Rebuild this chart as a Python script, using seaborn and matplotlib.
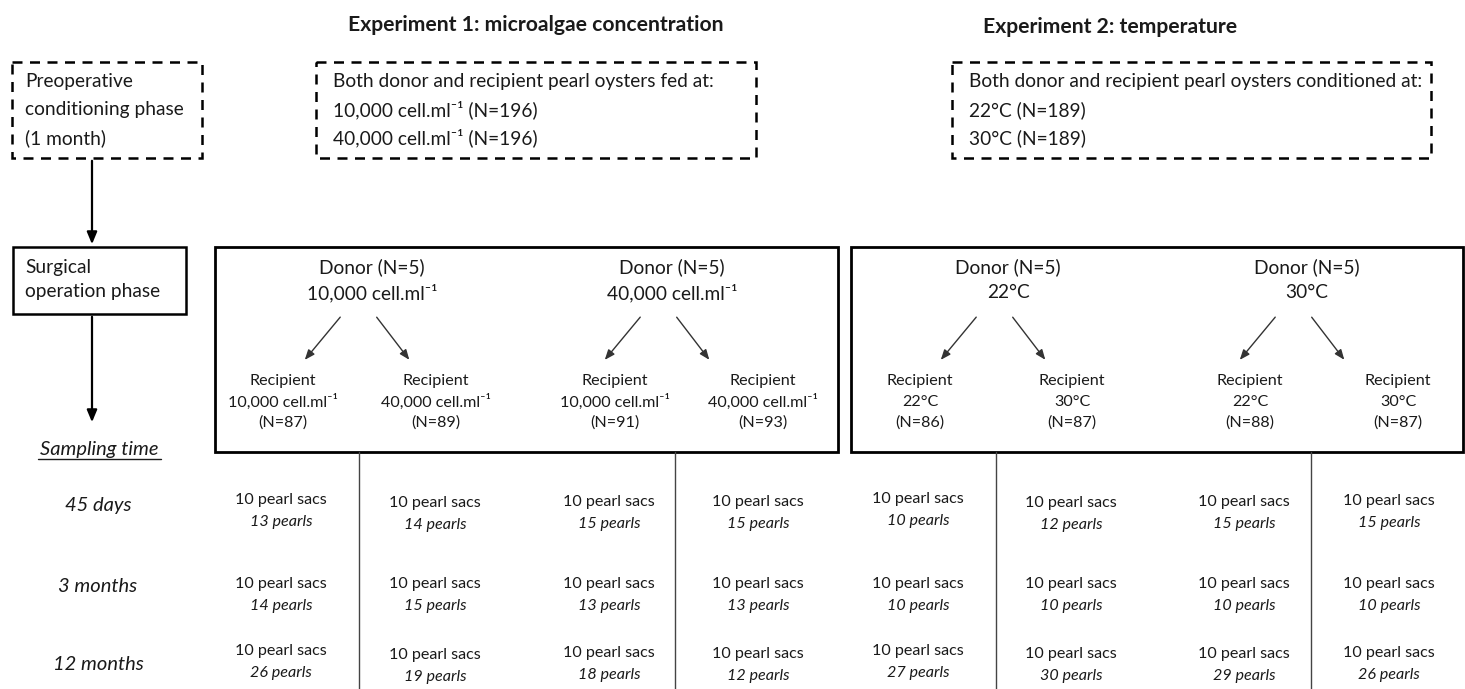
import matplotlib
matplotlib.use('Agg')
import matplotlib.pyplot as plt
import matplotlib.patches as mpatches
import seaborn as sns

# ---- data ----
exp_titles = ['Experiment 1: microalgae concentration', 'Experiment 2: temperature']
donor_conditions = ['10,000 cell.ml⁻¹', '40,000 cell.ml⁻¹', '22°C', '30°C']
recipient_conditions = ['10,000 cell.ml⁻¹', '40,000 cell.ml⁻¹',
                        '10,000 cell.ml⁻¹', '40,000 cell.ml⁻¹',
                        '22°C', '30°C', '22°C', '30°C']
recipient_n = [87, 89, 91, 93, 86, 87, 88, 87]
sampling_times = ['45 days', '3 months', '12 months']
pearl_sacs = [
    [10, 10, 10, 10, 10, 10, 10, 10],
    [10, 10, 10, 10, 10, 10, 10, 10],
    [10, 10, 10, 10, 10, 10, 10, 10],
]
pearls = [
    [13, 14, 15, 15, 10, 12, 15, 15],
    [14, 15, 13, 13, 10, 10, 10, 10],
    [26, 19, 18, 12, 27, 30, 29, 26],
]
exp1_conditioning = ['Both donor and recipient pearl oysters fed at:',
                     '10,000 cell.ml⁻¹ (N=196)',
                     '40,000 cell.ml⁻¹ (N=196)']
exp2_conditioning = ['Both donor and recipient pearl oysters conditioned at:',
                     '22°C (N=189)',
                     '30°C (N=189)']

sns.set_theme(style='white')
plt.rcParams['font.family'] = ['Lato', 'DejaVu Sans']

fig = plt.figure(figsize=(14.65, 6.89), dpi=100)
ax = fig.add_axes([0, 0, 1, 1])
ax.set_xlim(0, 1465)
ax.set_ylim(689, 0)
ax.axis('off')

TXT = '#1a1a1a'
MAIN = 13.8

# ---- titles ----
ax.text(536, 25, exp_titles[0], ha='center', va='center', fontsize=15.2, fontweight='bold', color=TXT)
ax.text(1110, 27, exp_titles[1], ha='center', va='center', fontsize=15.2, fontweight='bold', color=TXT)

# ---- dashed conditioning boxes ----
def dashed_box(x0, y0, x1, y1):
    r = mpatches.Rectangle((x0, y0), x1 - x0, y1 - y0, fill=False, ec='black',
                           lw=1.8, ls=(0, (4, 3)))
    ax.add_patch(r)

dashed_box(12, 62, 202, 158)
dashed_box(316, 62, 756, 158)
dashed_box(952, 62, 1431, 158)

for i, s in enumerate(['Preoperative', 'conditioning phase', '(1 month)']):
    ax.text(25, 82 + 28 * i, s, ha='left', va='center', fontsize=MAIN, color=TXT)
for i, s in enumerate(exp1_conditioning):
    ax.text(333, 82 + 28 * i, s, ha='left', va='center', fontsize=MAIN, color=TXT)
for i, s in enumerate(exp2_conditioning):
    ax.text(969, 82 + 28 * i, s, ha='left', va='center', fontsize=MAIN, color=TXT)

# ---- left flow ----
arrow_kw = dict(arrowstyle='-|>,head_length=0.6,head_width=0.25', color='black', lw=1.6)
ax.annotate('', xy=(92, 247), xytext=(92, 158), arrowprops=arrow_kw)
ax.add_patch(mpatches.Rectangle((13, 247), 173, 67, fill=False, ec='black', lw=1.8))
ax.text(25, 268, 'Surgical', ha='left', va='center', fontsize=MAIN, color=TXT)
ax.text(25, 292, 'operation phase', ha='left', va='center', fontsize=MAIN, color=TXT)
ax.annotate('', xy=(92, 425), xytext=(92, 314), arrowprops=arrow_kw)
ax.text(99, 450, 'Sampling time', ha='center', va='center', fontsize=14.5, style='italic', color=TXT)
ax.plot([38, 161], [459, 459], color=TXT, lw=1)

# ---- experiment boxes ----
ax.add_patch(mpatches.Rectangle((215, 247), 623, 205, fill=False, ec='black', lw=2))
ax.add_patch(mpatches.Rectangle((851, 247), 612, 205, fill=False, ec='black', lw=2))

donor_x = [372, 672, 1008, 1307]
rec_x = [283, 436, 615, 763, 920, 1072, 1250, 1398]
diag_kw = dict(arrowstyle='-|>,head_length=0.5,head_width=0.2', color='#333333', lw=1)
for d, (dx, cond) in enumerate(zip(donor_x, donor_conditions)):
    ax.text(dx, 267, 'Donor (N=5)', ha='center', va='center', fontsize=MAIN, color=TXT)
    ax.text(dx, 293, cond, ha='center', va='center', fontsize=MAIN, color=TXT)
    ax.annotate('', xy=(dx - 69, 362), xytext=(dx - 30, 315), arrowprops=diag_kw)
    ax.annotate('', xy=(dx + 39, 362), xytext=(dx + 3, 315), arrowprops=diag_kw)

for rx, cond, n in zip(rec_x, recipient_conditions, recipient_n):
    ax.text(rx, 381, 'Recipient', ha='center', va='center', fontsize=11.6, color=TXT)
    ax.text(rx, 402, cond, ha='center', va='center', fontsize=11.6, color=TXT)
    ax.text(rx, 423, f'(N={n})', ha='center', va='center', fontsize=11.6, color=TXT)

# ---- divider lines ----
for x in [359, 675, 996, 1311]:
    ax.plot([x, x], [452, 689], color='#444444', lw=1)

# ---- sampling table ----
cell_x = [281, 435, 609, 758, 918, 1071, 1244, 1389]
row_y = [
    [500, 503, 502, 502, 499, 503, 502, 501],
    [584, 584, 584, 584, 584, 584, 584, 584],
    [651, 655, 653, 654, 651, 654, 654, 653],
]
label_y = [506, 587, 664]
for r, t in enumerate(sampling_times):
    ax.text(98, label_y[r], t, ha='center', va='center', fontsize=14.5, style='italic', color=TXT)
    for c, cx in enumerate(cell_x):
        y = row_y[r][c]
        ax.text(cx, y, f'{pearl_sacs[r][c]} pearl sacs', ha='center', va='center', fontsize=11.6, color=TXT)
        ax.text(cx, y + 22, f'{pearls[r][c]} pearls', ha='center', va='center', fontsize=11.6,
                style='italic', color=TXT)

fig.savefig('out.png', dpi=100, facecolor='white')
